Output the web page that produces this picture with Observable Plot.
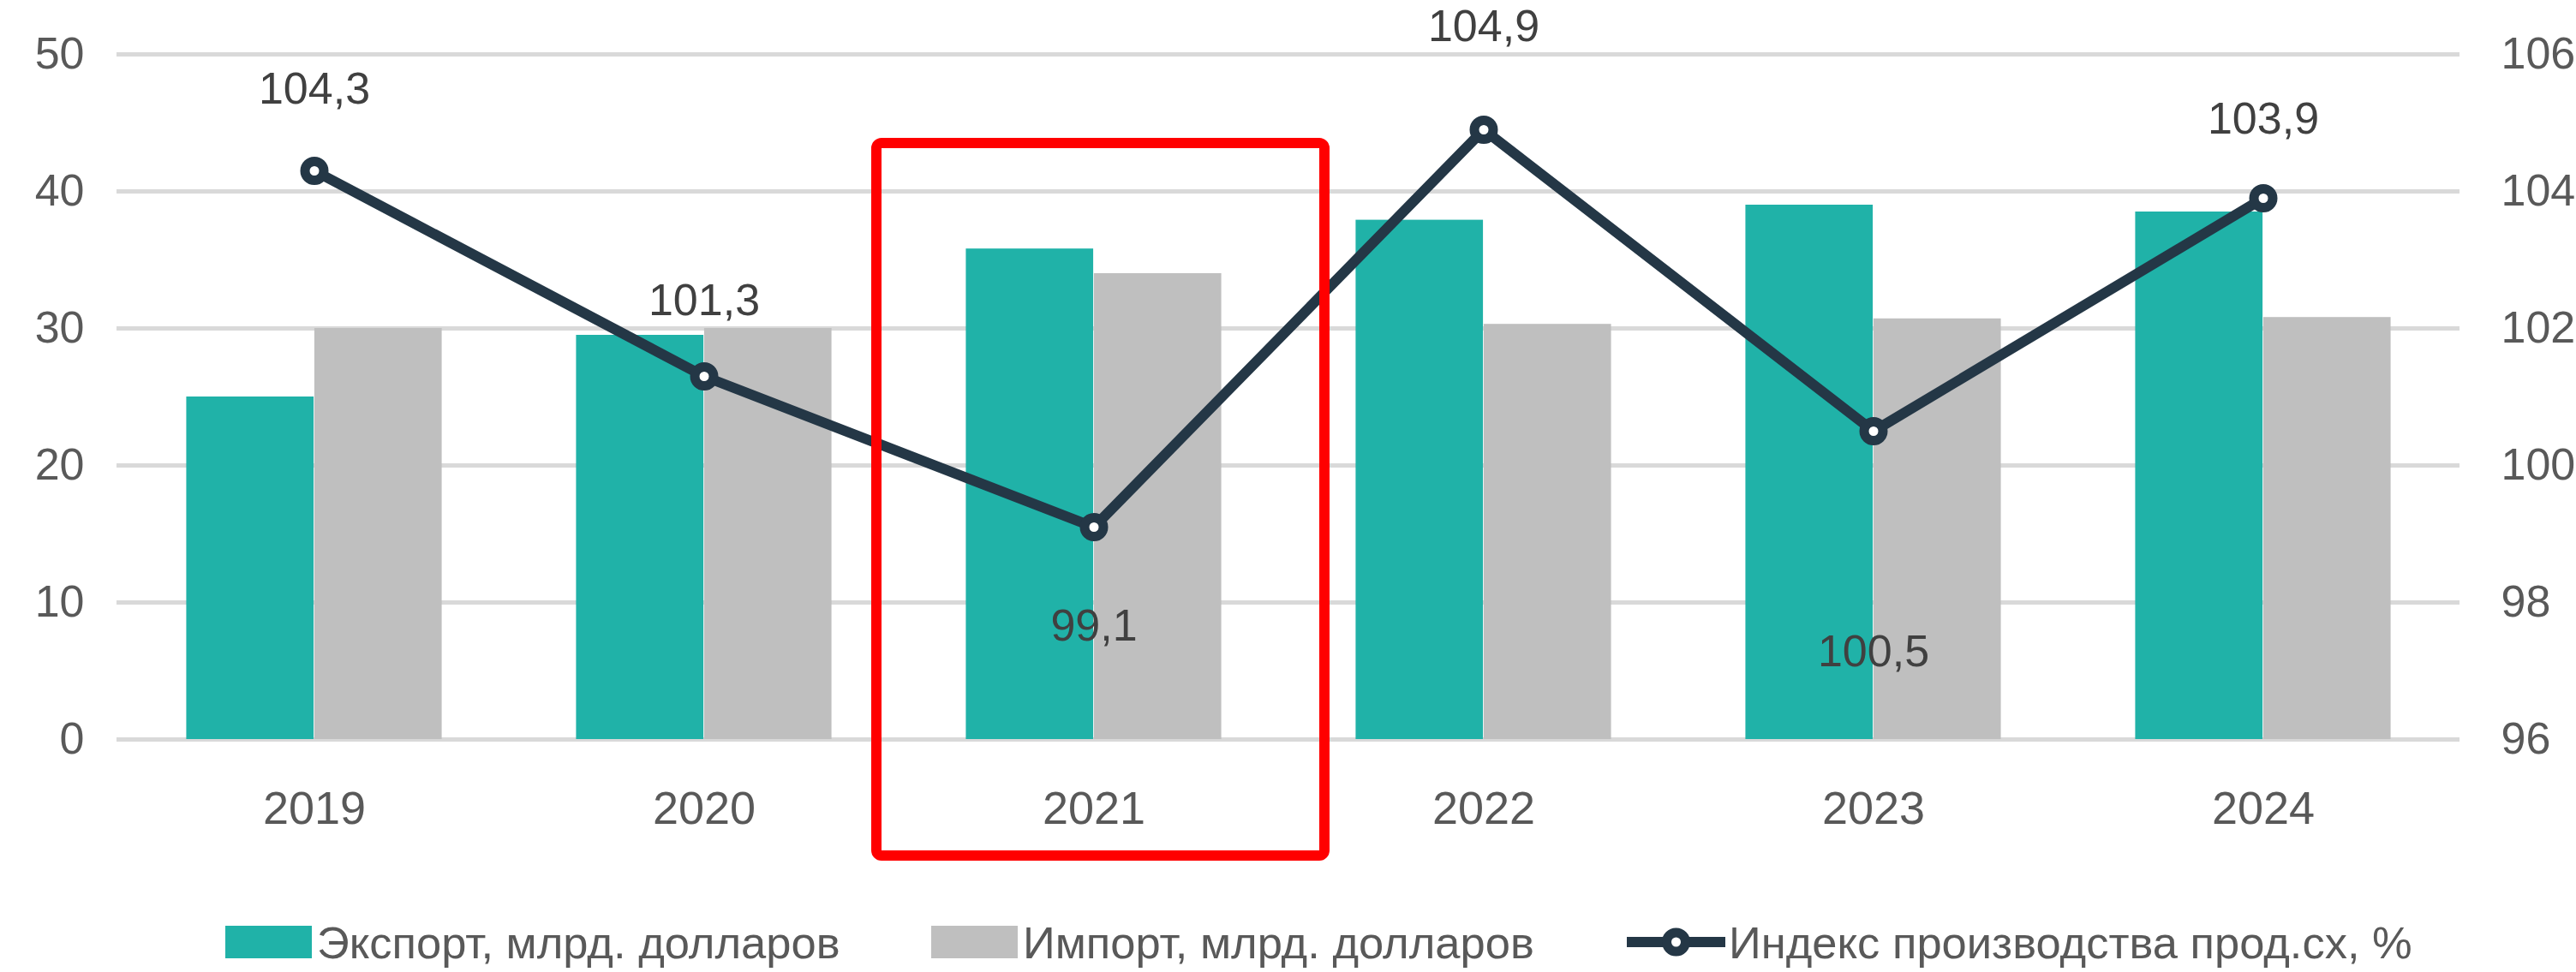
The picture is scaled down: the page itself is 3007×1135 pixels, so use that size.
<!DOCTYPE html>
<html><head><meta charset="utf-8">
<script src="https://cdn.jsdelivr.net/npm/d3@7"></script>
<script src="https://cdn.jsdelivr.net/npm/@observablehq/plot@0.6"></script>
<style>
html,body{margin:0;padding:0;background:#fff;}
body{width:3007px;height:1135px;overflow:hidden;font-family:"Liberation Sans",Arial,sans-serif;}
#legend{position:relative;height:95px;width:3007px;}
.item{position:absolute;top:30px;height:60px;display:flex;align-items:center;font-size:52.5px;color:#595959;white-space:nowrap;}
.sw{width:101px;height:38px;margin-right:6px;}
</style></head><body>
<div id="chart"></div>
<div id="legend"></div>
<script>
const years = ["2019", "2020", "2021", "2022", "2023", "2024"];
const exportValues = [25, 29.5, 35.8, 37.9, 39, 38.5];
const importValues = [30, 30, 34, 30.3, 30.7, 30.8];
const indexValues = [104.3, 101.3, 99.1, 104.9, 100.5, 103.9];
const leftTicks = [0, 10, 20, 30, 40, 50];
const rightTicks = [96, 98, 100, 102, 104, 106];
const seriesNames = ["Экспорт, млрд. долларов", "Импорт, млрд. долларов", "Индекс производства прод.сх, %"];
const highlightYear = "2021";

const colors = {exp: "#20B2A8", imp: "#BFBFBF", line: "#243746", grid: "#D9D9D9", text: "#595959", label: "#404040", red: "#FF0000"};

// right axis (96..106) mapped onto the left axis (0..50)
const R0 = 96, RK = 5;
const toLeft = v => (v - R0) * RK;

const rows = years.map((year, i) => ({year, exp: exportValues[i], imp: importValues[i], index: indexValues[i]}));

const W = 3007, H = 1040, ML = 136, MR = 136, MT = 63, MB = 177;
const bw = (W - ML - MR) / years.length;
const half = 149.5; // single bar width
// per-label vertical offsets (px) as placed in the source chart
const labelDy = [-95, -88, 116, -120, 258, -92];
const fmt = v => v.toFixed(1).replace(".", ",");

const marks = [
  Plot.gridY(leftTicks, {stroke: colors.grid, strokeWidth: 5, strokeOpacity: 1}),
  Plot.barY(rows, {x: "year", y: "exp", fill: colors.exp, insetLeft: bw / 2 - half, insetRight: bw / 2}),
  Plot.barY(rows, {x: "year", y: "imp", fill: colors.imp, insetLeft: bw / 2, insetRight: bw / 2 - half}),
  Plot.line(rows, {x: "year", y: d => toLeft(d.index), stroke: colors.line, strokeWidth: 12}),
  Plot.dot(rows, {x: "year", y: d => toLeft(d.index), r: 11, fill: "white", stroke: colors.line, strokeWidth: 11}),
  ...rows.map((d, i) => Plot.text([d], {x: "year", y: d => toLeft(d.index), text: d => fmt(d.index), dy: labelDy[i], fontSize: 52, fill: colors.label})),
  Plot.axisY(leftTicks, {anchor: "left", tickSize: 0, tickPadding: 38, fontSize: 52, fill: colors.text, label: null}),
  Plot.axisY(rightTicks.map(toLeft), {anchor: "right", tickSize: 0, tickPadding: 48, fontSize: 52, fill: colors.text, label: null, tickFormat: v => String(v / RK + R0)}),
  Plot.axisX({tickSize: 0, tickPadding: 60, fontSize: 54, fill: colors.text, label: null}),
  Plot.barY([highlightYear], {x: d => d, y1: () => -8.5, y2: () => 43.5, fill: "none", stroke: colors.red, strokeWidth: 12, rx: 6, insetLeft: -26, insetRight: -42})
];

const chart = Plot.plot({
  width: W, height: H,
  marginLeft: ML, marginRight: MR, marginTop: MT, marginBottom: MB,
  style: {fontFamily: "'Liberation Sans', Arial, sans-serif", background: "white", overflow: "visible"},
  x: {type: "band", domain: years, padding: 0},
  y: {domain: [0, 50]},
  marks
});
document.getElementById("chart").appendChild(chart);

// legend
const legend = document.getElementById("legend");
const lefts = [263, 1087, 1899];
seriesNames.forEach((name, i) => {
  const it = document.createElement("div");
  it.className = "item";
  it.style.left = lefts[i] + "px";
  if (i < 2) {
    const sw = document.createElement("div");
    sw.className = "sw";
    sw.style.background = i === 0 ? colors.exp : colors.imp;
    it.appendChild(sw);
  } else {
    const ns = "http://www.w3.org/2000/svg";
    const s = document.createElementNS(ns, "svg");
    s.setAttribute("width", 115); s.setAttribute("height", 44);
    s.style.marginRight = "4px";
    const l = document.createElementNS(ns, "line");
    l.setAttribute("x1", 0); l.setAttribute("x2", 115); l.setAttribute("y1", 22); l.setAttribute("y2", 22);
    l.setAttribute("stroke", colors.line); l.setAttribute("stroke-width", 12);
    const c = document.createElementNS(ns, "circle");
    c.setAttribute("cx", 57.5); c.setAttribute("cy", 22); c.setAttribute("r", 11);
    c.setAttribute("fill", "white"); c.setAttribute("stroke", colors.line); c.setAttribute("stroke-width", 11);
    s.appendChild(l); s.appendChild(c);
    it.appendChild(s);
  }
  const t = document.createElement("span");
  t.textContent = name;
  it.appendChild(t);
  legend.appendChild(it);
});
</script>
</body></html>
